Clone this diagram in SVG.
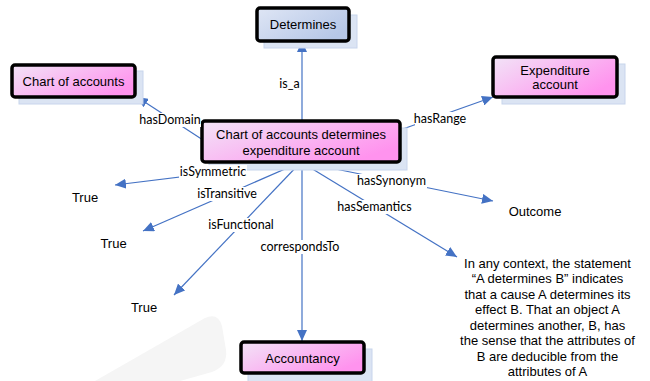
<svg xmlns="http://www.w3.org/2000/svg" width="650" height="381" viewBox="0 0 650 381">
<defs>
<linearGradient id="pink" x1="0" y1="0" x2="1" y2="0.6">
<stop offset="0" stop-color="#f2e4f7"/>
<stop offset="1" stop-color="#ff93ee"/>
</linearGradient>
<linearGradient id="blue" x1="0" y1="0" x2="1" y2="0.6">
<stop offset="0" stop-color="#dfe6f5"/>
<stop offset="1" stop-color="#b6c7e7"/>
</linearGradient>
<marker id="arr" markerUnits="userSpaceOnUse" markerWidth="12" markerHeight="10" refX="11" refY="5" orient="auto">
<path d="M0,0 L11,5 L0,10 Z" fill="#4472c4"/>
</marker>
<style>
.shadow{fill:#dbe4f3;stroke:#c8d5ec;stroke-width:1}
.box{stroke:#000;stroke-width:3.5}
.bt{font-family:"Liberation Sans",Arial,sans-serif;font-size:13px;fill:#000;text-anchor:middle}
.lbl{font-family:Lato,"Liberation Sans",sans-serif;font-size:12.5px;fill:#000;text-anchor:middle}
.lb{fill:#fff}
.con{stroke:#4472c4;stroke-width:1.2;fill:none;marker-end:url(#arr)}
.val{font-family:"Liberation Sans",Arial,sans-serif;font-size:13px;fill:#000;text-anchor:middle}
</style>
</defs>
<rect width="650" height="381" fill="#fff"/>
<path d="M95,381 L205,318 Q218,312 222,326 L226,350 Q228,366 212,372 L180,381 Z" fill="#f5f5f5"/>

<g id="connectors">
<line class="con" x1="302" y1="121" x2="302" y2="41"/>
<line class="con" x1="203" y1="140" x2="137" y2="97"/>
<line class="con" x1="400" y1="130" x2="493" y2="97"/>
<line class="con" x1="301" y1="162" x2="115" y2="185"/>
<line class="con" x1="301" y1="162" x2="143" y2="231"/>
<line class="con" x1="301" y1="162" x2="174" y2="295"/>
<line class="con" x1="302" y1="162" x2="302" y2="341"/>
<line class="con" x1="301" y1="162" x2="493" y2="201"/>
<line class="con" x1="301" y1="162" x2="457" y2="257"/>
</g>

<g id="node-determines">
<rect class="shadow" x="264" y="15" width="93" height="33"/>
<rect class="box" x="257" y="8" width="92" height="33" rx="3" fill="url(#blue)"/>
<text class="bt" x="303" y="29">Determines</text>
</g>

<g id="node-chart">
<rect class="shadow" x="19" y="71" width="124" height="33"/>
<rect class="box" x="12" y="65" width="123" height="32" rx="3" fill="url(#pink)"/>
<text class="bt" x="73.5" y="85.5">Chart of accounts</text>
</g>

<g id="node-expenditure">
<rect class="shadow" x="502" y="64" width="123" height="40"/>
<rect class="box" x="493" y="57" width="124" height="40" rx="3" fill="url(#pink)"/>
<text class="bt" x="555" y="74.5">Expenditure</text>
<text class="bt" x="555" y="89">account</text>
</g>

<g id="node-central">
<rect class="shadow" x="209" y="128" width="198" height="42"/>
<rect class="box" x="202" y="121" width="198" height="41" rx="3" fill="url(#pink)"/>
<text class="bt" x="301" y="138.5">Chart of accounts determines</text>
<text class="bt" x="301" y="154.5">expenditure account</text>
</g>

<g id="node-accountancy">
<rect class="shadow" x="248" y="349" width="124" height="34"/>
<rect class="box" x="241" y="342" width="123" height="31" rx="3" fill="url(#pink)"/>
<text class="bt" x="302.5" y="362.5">Accountancy</text>
</g>

<g id="labels">
<rect class="lb" x="279" y="77" width="21" height="14"/>
<text class="lbl" x="289.5" y="88">is_a</text>
<rect class="lb" x="139" y="113" width="62" height="14"/>
<text class="lbl" x="170" y="124">hasDomain</text>
<rect class="lb" x="415" y="112" width="50" height="14"/>
<text class="lbl" x="440" y="123">hasRange</text>
<rect class="lb" x="179" y="165" width="68" height="14"/>
<text class="lbl" x="213" y="176">isSymmetric</text>
<rect class="lb" x="196" y="187" width="62" height="14"/>
<text class="lbl" x="227" y="198">isTransitive</text>
<rect class="lb" x="207" y="218" width="67" height="14"/>
<text class="lbl" x="241" y="229">isFunctional</text>
<rect class="lb" x="259" y="240" width="82" height="14"/>
<text class="lbl" x="300" y="251">correspondsTo</text>
<rect class="lb" x="356" y="174" width="71" height="14"/>
<text class="lbl" x="391.5" y="185">hasSynonym</text>
<rect class="lb" x="337" y="200" width="75" height="14"/>
<text class="lbl" x="374.5" y="211">hasSemantics</text>
</g>

<g id="values">
<text class="val" x="85" y="201.5">True</text>
<text class="val" x="113.5" y="247.5">True</text>
<text class="val" x="144" y="311.5">True</text>
<text class="val" x="535" y="215.5">Outcome</text>
<text class="val" x="547.5" y="267.5">In any context, the statement</text>
<text class="val" x="547.5" y="283">“A determines B” indicates</text>
<text class="val" x="547.5" y="298.5">that a cause A determines its</text>
<text class="val" x="547.5" y="314">effect B. That an object A</text>
<text class="val" x="547.5" y="329.5">determines another, B, has</text>
<text class="val" x="547.5" y="345">the sense that the attributes of</text>
<text class="val" x="547.5" y="360.5">B are deducible from the</text>
<text class="val" x="547.5" y="376">attributes of A</text>
</g>
</svg>
